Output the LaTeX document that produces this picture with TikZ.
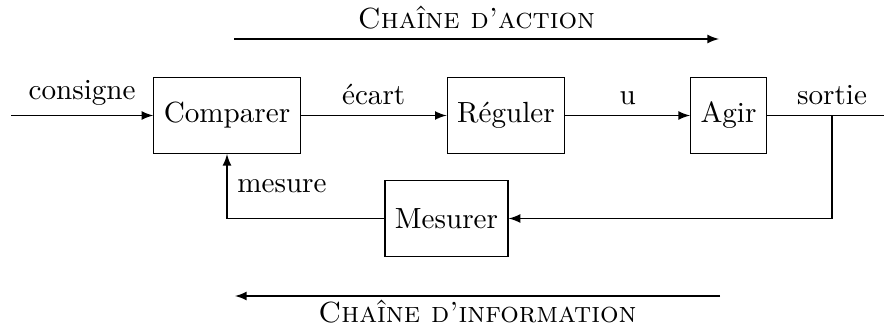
\documentclass[tikz,border=0pt]{standalone}
\usetikzlibrary{arrows}

\tikzset{
	bloc/.style={draw, minimum height=26pt, minimum width=26pt, inner xsep=3.4pt},
	fleche/.style={-latex}
}

\begin{document}
\begin{tikzpicture}[x=0.343pt, y=-0.343pt]
		\useasboundingbox (0,0) rectangle (884,326);
		\node[bloc] (comparer) at (227,115.5) {Comparer};
		\node[bloc] (reguler) at (506,115.5) {Réguler};
		\node[bloc] (agir) at (728.5,115.5) {Agir};
		\node[bloc] (mesurer) at (446.5,218.5) {Mesurer};
		\coordinate (entree) at (11,115.5);
		\coordinate (branche) at (832,115.5);
		\coordinate (fin) at (884,115.5);
		\draw[fleche] (entree) -- node[above](consigne){consigne} (comparer);
		\draw[fleche] (comparer) -- node[above](ecart){écart} (reguler);
		\draw[fleche] (reguler) -- node[above](u){u} (agir);
		\draw (agir) -- (fin) node[above] at (branche) (sortie) {sortie};
		\draw[fleche] (branche) |- (mesurer.east);
		\draw[fleche] (mesurer.west) -| node[pos=0.75, right](mesure){mesure} (comparer.south);
		% chaines
		\coordinate (actiondeb) at (234,39);
		\coordinate (actionfin) at (719,39);
		\coordinate (infodeb) at (720,296);
		\coordinate (infofin) at (235,296);
		\draw[fleche] (actiondeb) -- node[above](action){\textsc{Chaîne d'action}} (actionfin);
		\draw[fleche] (infodeb) -- node[below, inner ysep=1pt](info){\textsc{Chaîne d'information}} (infofin);
	\end{tikzpicture}
\end{document}
